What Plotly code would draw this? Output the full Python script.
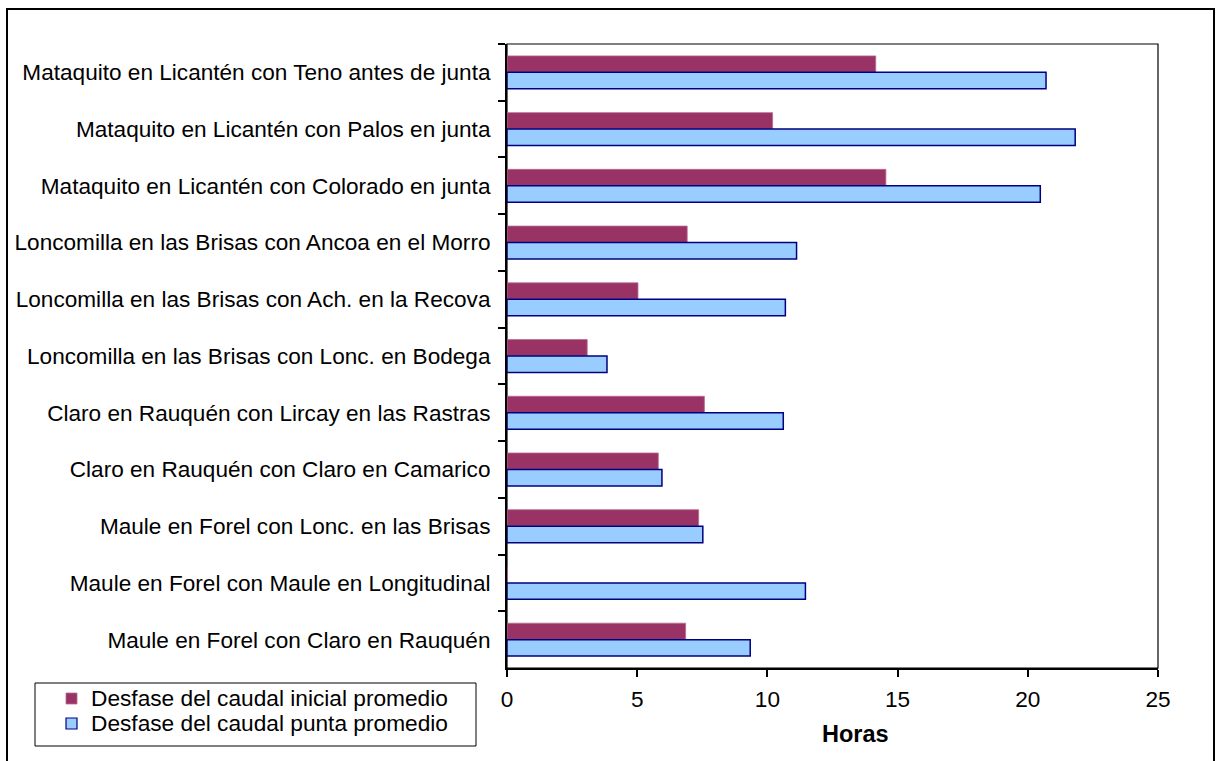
import plotly.graph_objects as go

categories = [
    "Mataquito en Licantén con Teno antes de junta",
    "Mataquito en Licantén con Palos en junta",
    "Mataquito en Licantén con Colorado en junta",
    "Loncomilla en las Brisas con Ancoa en el Morro",
    "Loncomilla en las Brisas con Ach. en la Recova",
    "Loncomilla en las Brisas con Lonc. en Bodega",
    "Claro en Rauquén con Lircay en las Rastras",
    "Claro en Rauquén con Claro en Camarico",
    "Maule en Forel con Lonc. en las Brisas",
    "Maule en Forel con Maule en Longitudinal",
    "Maule en Forel con Claro en Rauquén",
]
inicial = [14.16, 10.20, 14.55, 6.92, 5.03, 3.08, 7.58, 5.81, 7.36, 0, 6.86]
punta = [20.70, 21.82, 20.48, 11.12, 10.69, 3.84, 10.61, 5.95, 7.52, 11.46, 9.34]
name_inicial = "Desfase del caudal inicial promedio"
name_punta = "Desfase del caudal punta promedio"
x_ticks = [0, 5, 10, 15, 20, 25]
x_title = "Horas"

FONT = "Arial, Liberation Sans, sans-serif"
COL_INI, COL_INI_EDGE = "#993366", "#B86A91"
COL_PUN, COL_PUN_EDGE = "#99CCFF", "#000080"

W, H = 1218, 761
PL, PR, PT, PB = 507, 1158, 44, 668
L, T, R, B = PL, PT, W - PR, H - PB
pw, ph = PR - PL, PB - PT

def px(x):
    return (x - PL) / pw

def py(y):
    return (PB - y) / ph

fig = go.Figure()
fig.add_trace(go.Bar(
    y=categories, x=inicial, name=name_inicial, orientation="h",
    marker=dict(color=COL_INI, line=dict(color=COL_INI_EDGE, width=0.8)),
))
fig.add_trace(go.Bar(
    y=categories, x=punta, name=name_punta, orientation="h",
    marker=dict(color=COL_PUN, line=dict(color=COL_PUN_EDGE, width=1.5)),
))

shapes = [
    # plot-area frame
    dict(type="rect", xref="paper", yref="paper",
         x0=0, x1=1, y0=0, y1=1, line=dict(color="black", width=1.2), layer="below"),
    # chart-area border
    dict(type="rect", xref="paper", yref="paper",
         x0=px(7), x1=px(1214), y0=py(775), y1=py(9),
         line=dict(color="black", width=2)),
    # legend box
    dict(type="rect", xref="paper", yref="paper",
         x0=px(35), x1=px(476), y0=py(746), y1=py(683),
         line=dict(color="black", width=1), fillcolor="white"),
    # legend keys
    dict(type="rect", xref="paper", yref="paper",
         x0=px(66), x1=px(77), y0=py(704), y1=py(693),
         line=dict(color=COL_INI_EDGE, width=0.8), fillcolor=COL_INI),
    dict(type="rect", xref="paper", yref="paper",
         x0=px(66), x1=px(77), y0=py(729), y1=py(718),
         line=dict(color=COL_PUN_EDGE, width=1.2), fillcolor=COL_PUN),
]

annotations = [
    dict(text="<b>" + x_title + "</b>", x=px(855), y=py(734),
         xref="paper", yref="paper", showarrow=False,
         xanchor="center", yanchor="middle", font=dict(size=23.5)),
    dict(text=name_inicial, x=px(89), y=py(698),
         xref="paper", yref="paper", showarrow=False,
         xanchor="left", yanchor="middle", font=dict(size=22.7)),
    dict(text=name_punta, x=px(89), y=py(723),
         xref="paper", yref="paper", showarrow=False,
         xanchor="left", yanchor="middle", font=dict(size=22.7)),
]

fig.update_layout(
    width=W, height=H,
    margin=dict(l=L, r=R, t=T, b=B, autoexpand=False),
    paper_bgcolor="white", plot_bgcolor="white",
    barmode="group", bargap=0.42, bargroupgap=0,
    font=dict(family=FONT, size=22.6, color="black"),
    showlegend=False,
    xaxis=dict(
        range=[0, 25], tickvals=x_ticks, ticks="outside", ticklen=7,
        tickcolor="black", tickwidth=1.5, showgrid=False, zeroline=False,
        showline=True, linecolor="black", linewidth=2,
        tickfont=dict(size=22.6), ticklabelstandoff=3,
    ),
    yaxis=dict(
        autorange="reversed", type="category", tickson="boundaries",
        ticks="outside", ticklen=7, tickcolor="black", tickwidth=1.5,
        showgrid=False, showline=True, linecolor="black", linewidth=2,
        ticklabelstandoff=10, tickfont=dict(size=22.6),
    ),
    annotations=annotations,
    shapes=shapes,
)

fig.write_html(
    "out.html",
    config={"displayModeBar": False},
    post_script="document.body.style.margin='0';document.body.style.overflow='hidden';",
)
